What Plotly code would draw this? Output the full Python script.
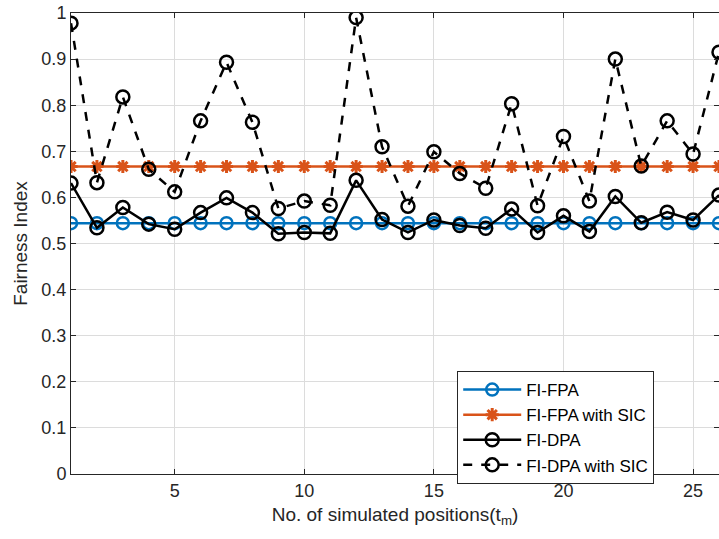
import plotly.graph_objects as go

x = list(range(1, 27))
fi_fpa = [0.544] * 26
fi_fpa_sic = [0.667] * 26
fi_dpa = [0.631, 0.534, 0.578, 0.542, 0.531, 0.567, 0.599, 0.567, 0.521, 0.524,
          0.522, 0.637, 0.552, 0.524, 0.551, 0.539, 0.533, 0.575, 0.524, 0.560,
          0.526, 0.602, 0.545, 0.568, 0.551, 0.605]
fi_dpa_sic = [0.978, 0.632, 0.818, 0.661, 0.612, 0.766, 0.893, 0.763, 0.576, 0.592,
              0.583, 0.990, 0.710, 0.581, 0.699, 0.652, 0.620, 0.803, 0.582, 0.732,
              0.592, 0.900, 0.668, 0.766, 0.694, 0.915]

font = "Liberation Sans, Arial, Helvetica, sans-serif"
fig = go.Figure()
fig.add_trace(go.Scatter(x=x, y=fi_fpa, name="FI-FPA", mode="lines+markers",
                         line=dict(color="#0072BD", width=2.5),
                         marker=dict(symbol="circle-open", size=12, line=dict(width=2.5, color="#0072BD"))))
fig.add_trace(go.Scatter(x=x, y=fi_fpa_sic, name="FI-FPA with SIC", mode="lines+markers",
                         line=dict(color="#D95319", width=2.5),
                         marker=dict(symbol="asterisk-open", size=11, line=dict(width=3, color="#D95319"))))
fig.add_trace(go.Scatter(x=x, y=fi_dpa, name="FI-DPA", mode="lines+markers",
                         line=dict(color="black", width=2.5),
                         marker=dict(symbol="circle-open", size=13, line=dict(width=2.5, color="black"))))
fig.add_trace(go.Scatter(x=x, y=fi_dpa_sic, name="FI-DPA with SIC", mode="lines+markers",
                         line=dict(color="black", width=2.5, dash="dash"),
                         marker=dict(symbol="circle-open", size=13, line=dict(width=2.5, color="black"))))

axis_common = dict(showgrid=True, gridcolor="#dcdcdc", gridwidth=1, showline=True,
                   linecolor="#262626", linewidth=1, mirror="ticks", ticks="inside",
                   ticklen=5, tickcolor="#262626", zeroline=False,
                   tickfont=dict(family=font, size=18, color="#262626"))
fig.update_xaxes(range=[1, 26], tickvals=[5, 10, 15, 20, 25],
                 title=dict(text="No. of simulated positions(t<sub>m</sub>)",
                            font=dict(family=font, size=19, color="#262626"), standoff=8),
                 **axis_common)
fig.update_yaxes(range=[0, 1], tickvals=[i / 10 for i in range(11)],
                 ticktext=["0", "0.1", "0.2", "0.3", "0.4", "0.5", "0.6", "0.7", "0.8", "0.9", "1"],
                 title=dict(text="Fairness Index", font=dict(family=font, size=19, color="#262626"), standoff=8),
                 **axis_common)
fig.update_layout(width=719, height=539, margin=dict(l=71, r=0, t=13, b=65),
                  plot_bgcolor="white", paper_bgcolor="white",
                  font=dict(family=font, color="#262626"),
                  legend=dict(x=0.596, y=0.2234, xanchor="left", yanchor="top",
                              bgcolor="white", bordercolor="#262626", borderwidth=1,
                              font=dict(family=font, size=17, color="black"),
                              tracegroupgap=0, itemwidth=58))
fig.write_html("out.html")
